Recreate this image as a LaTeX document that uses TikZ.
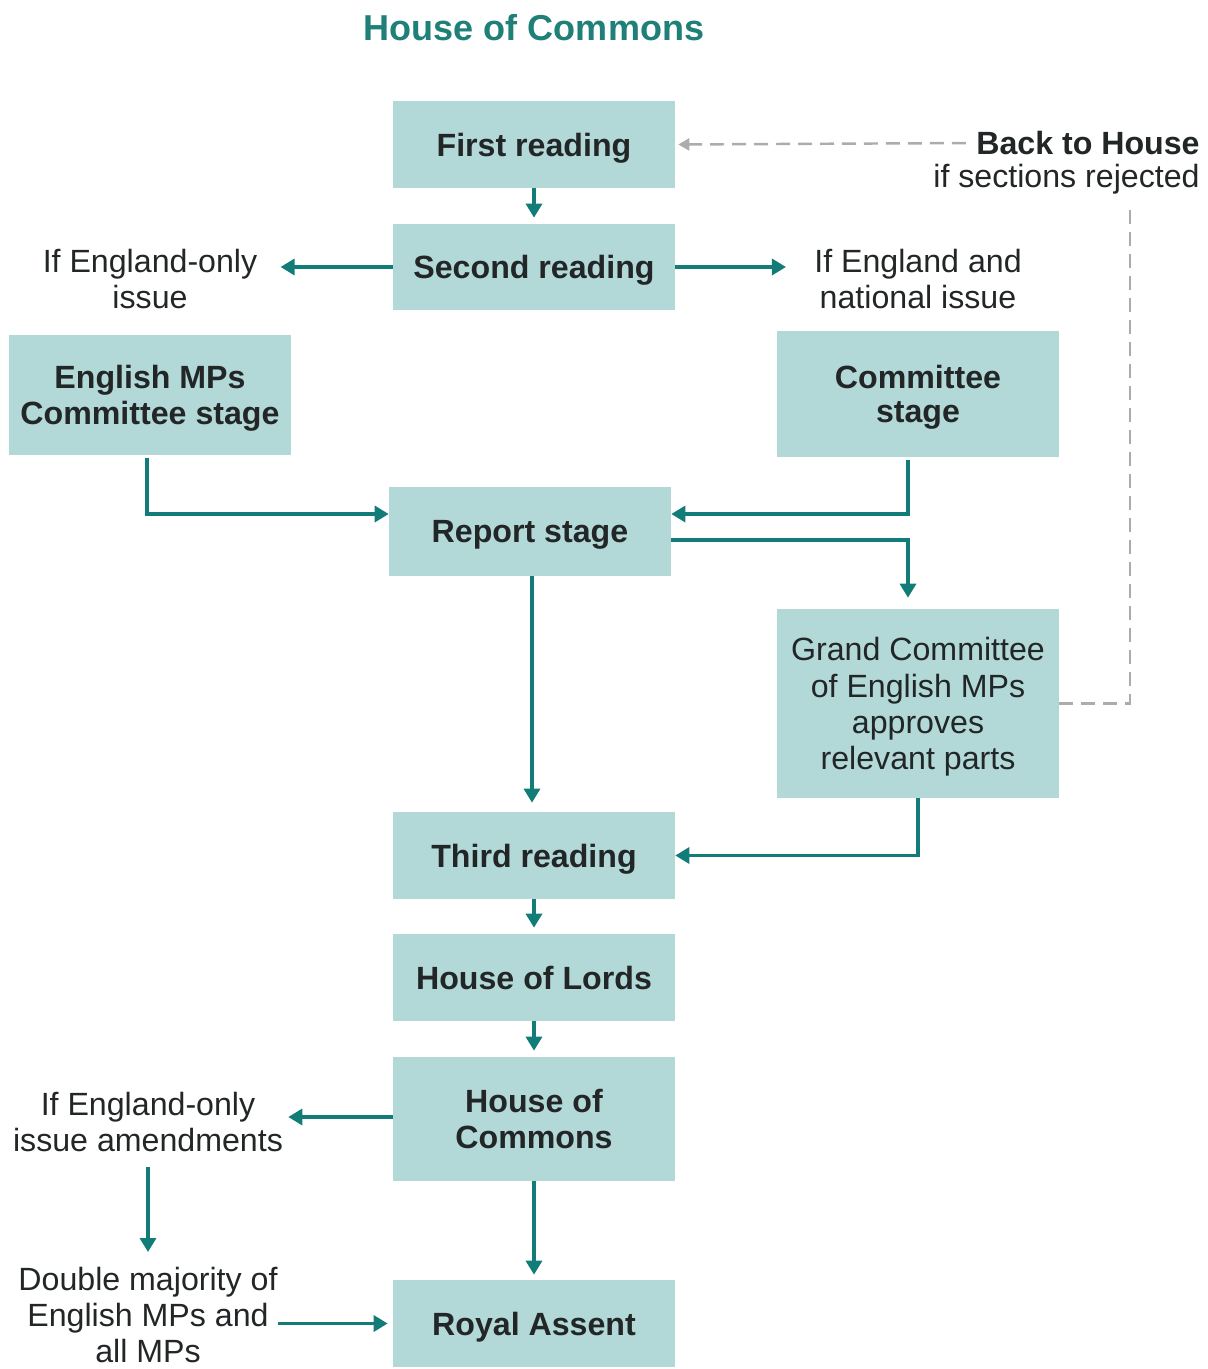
\documentclass[tikz,border=0pt]{standalone}
\usepackage{fontspec}
\setmainfont{Liberation Sans}
\usetikzlibrary{arrows.meta}
\definecolor{boxfill}{HTML}{B2D8D8}
\definecolor{teal2}{HTML}{127C79}
\definecolor{txt}{HTML}{222626}
\definecolor{dgrey}{HTML}{ACACAC}
\definecolor{titlec}{HTML}{1E8077}
\begin{document}
\begin{tikzpicture}[x=0.02cm,y=-0.02cm,
  font=\fontsize{18.3}{20.4}\selectfont, text=txt,
  stage/.style={fill=boxfill, minimum width=5.64cm, inner sep=0, align=center, text depth=0pt,
    font=\fontsize{18.3}{20.6}\selectfont\bfseries},
  lab/.style={align=center, inner sep=0},
  arr/.style={draw=teal2, line width=1.9pt, -{Triangle[length=0.28cm,width=0.32cm]}},
  darr/.style={draw=dgrey, line width=1.4pt, dash pattern=on 0.28cm off 0.16cm}]
\useasboundingbox (0,0) rectangle (1207,1369);
% title
\node[lab, text=titlec, font=\fontsize{20.5}{22}\selectfont\bfseries] (title) at (534,28) {House of Commons};
% boxes
\node[stage, minimum height=1.74cm] (first) at (534,144.5) {First reading};
\node[stage, minimum height=1.72cm] (second) at (534,267) {Second reading};
\node[stage, minimum height=2.40cm] (emps) at (150,395) {English MPs\\Committee stage};
\node[stage, minimum height=2.52cm, font=\fontsize{18.3}{19}\selectfont\bfseries] (cstage) at (918,394) {Committee\\stage};
\node[stage, minimum height=1.78cm] (report) at (530,531.5) {Report stage};
\node[stage, minimum height=3.78cm, font=\fontsize{18.3}{20.6}\selectfont] (gc) at (918,703.5) {Grand Committee\\of English MPs\\approves\\relevant parts};
\node[stage, minimum height=1.74cm] (third) at (534,855.5) {Third reading};
\node[stage, minimum height=1.74cm] (lords) at (534,977.5) {House of Lords};
\node[stage, minimum height=2.48cm] (hoc) at (534,1119) {House of\\Commons};
\node[stage, minimum height=1.74cm] (royal) at (534,1323.5) {Royal Assent};
% labels
\node[lab] (eonly) at (150,279) {If England-only\\issue};
\node[lab] (enat) at (918,279) {If England and\\national issue};
\node[lab, anchor=east, font=\fontsize{18.3}{20.4}\selectfont\bfseries] (back) at (1200,143) {Back to House};
\node[lab, anchor=east] (backsub) at (1200,179) {if sections rejected};
\coordinate (dtop) at (1130,208);
\node[lab] (amend) at (148,1122) {If England-only\\issue amendments};
\node[lab] (double) at (148,1315) {Double majority of\\English MPs and\\all MPs};
% connectors
\draw[arr, shorten >=0.12cm] (first) -- (second);
\draw[arr, shorten >=0.46cm] (second.west) -- (eonly.east |- second.west);
\draw[arr, shorten >=0.56cm] (second.east) -- (enat.west |- second.east);
\draw[arr, shorten <=0.06cm] ([xshift=-0.06cm]emps.south) |- ([yshift=0.35cm]report.west);
\draw[arr, shorten <=0.06cm] ([xshift=-0.2cm]cstage.south) |- ([yshift=0.35cm]report.east);
\draw[arr, shorten >=0.22cm] ([yshift=-0.17cm]report.east) -| ([xshift=-0.2cm]gc.north);
\draw[arr, shorten >=0.18cm] ([xshift=0.04cm]report.south) -- ([xshift=0.04cm]report.south |- third.north);
\draw[arr] (gc.south) |- (third.east);
\draw[arr, shorten >=0.12cm] (third) -- (lords);
\draw[arr, shorten >=0.12cm] (lords) -- (hoc);
\draw[arr, shorten >=0.1cm] (hoc) -- (royal);
\draw[arr, shorten >=0.1cm] ([yshift=0.04cm]hoc.west) -- ([yshift=0.04cm]amend.east |- hoc.west);
\draw[arr, shorten <=0.3cm, shorten >=0.3cm] (amend) -- (double);
\draw[arr, shorten >=0.1cm] (double.east |- royal.west) -- (royal.west);
\draw[darr, -{Triangle[length=0.22cm,width=0.24cm]}, shorten <=0.2cm, shorten >=0.06cm] (back.west) -- (first.east);
\draw[darr] (gc.east) -| (dtop);
\end{tikzpicture}
\end{document}
